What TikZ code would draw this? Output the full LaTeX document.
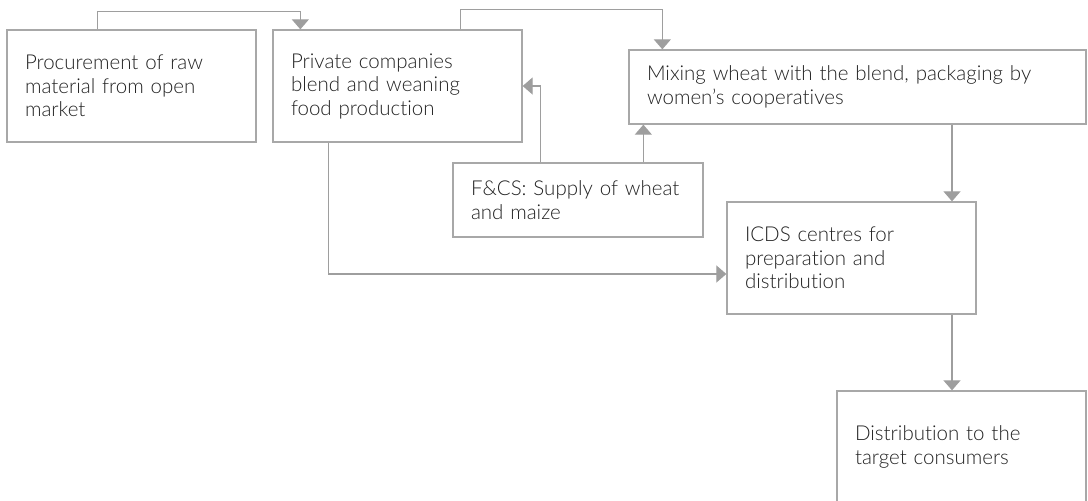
\documentclass[tikz,border=0pt]{standalone}
\usepackage{fontspec}
\setmainfont{Lato Light}[Ligatures=NoCommon]
\usepackage{xcolor}
\usetikzlibrary{arrows.meta,calc,positioning}
\definecolor{boxGray}{HTML}{A8A8A8}
\definecolor{flowGray}{HTML}{9E9E9E}
\definecolor{textGray}{HTML}{222222}
\tikzset{
  flow/.style={-{Triangle[length=10pt,width=17pt]}, draw=flowGray, line width=1.2pt},
  stage/.style={rectangle, draw=boxGray, line width=1.3pt, fill=white, text=textGray, align=left, inner xsep=18pt, inner ysep=4pt, font=\fontsize{20.5}{23.5}\selectfont},
  tallStage/.style={stage, text width=213pt, minimum height=112pt},
  flatStage/.style={stage, minimum height=74pt}
}

\begin{document}
\begin{tikzpicture}[x=1pt,y=-1pt]
\useasboundingbox (0,0) rectangle (1088,501);

% --------------------------------------------------------------------------
% Stages
% --------------------------------------------------------------------------
\node[tallStage] (procure) at (131.5,86) {Procurement of raw\\material from open\\market};
\node[tallStage] (blend) at (397.5,86) {Private companies\\blend and weaning\\food production};
\node[flatStage, text width=421pt] (mixing) at (857.5,87) {Mixing wheat with the blend, packaging by\\women’s cooperatives};
\node[flatStage, text width=214pt] (fcs) at (578,200) {F\&CS: Supply of wheat\\and maize};
\node[tallStage] (icds) at (851.5,258) {ICDS centres for\\preparation and\\distribution};
\node[tallStage] (distrib) at (961.5,447) {Distribution to the\\target consumers};

% --------------------------------------------------------------------------
% Flows
% --------------------------------------------------------------------------
\draw[flow] ($(procure.north west)+(91,0)$) -- ++(0,-18) -| ($(blend.north west)+(28,0)$);
\draw[flow] ($(blend.north west)+(188,0)$) -- ++(0,-20) -| ($(mixing.north west)+(34,0)$);
\draw[flow] ($(blend.south west)+(56,0)$) |- ($(icds.west)+(0,16)$);
\draw[flow] ($(fcs.north west)+(88,0)$) |- (blend.east);
\coordinate (fcsTap) at ($(fcs.north west)+(191,0)$);
\draw[flow] (fcsTap) -- (fcsTap |- mixing.south);
\coordinate (mixDrop) at ($(icds.north)+(100.5,0)$);
\draw[flow] (mixDrop |- mixing.south) -- (mixDrop);
\coordinate (icdsDrop) at ($(icds.south)+(100.5,0)$);
\draw[flow] (icdsDrop) -- (icdsDrop |- distrib.north);

\end{tikzpicture}
\end{document}
